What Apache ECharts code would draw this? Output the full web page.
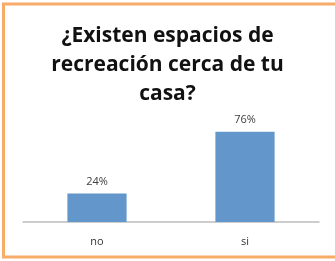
<!DOCTYPE html>
<html>
<head>
<meta charset="utf-8">
<script src="https://cdn.jsdelivr.net/npm/echarts@6/dist/echarts.min.js"></script>
<style>
  html, body { margin: 0; padding: 0; background: #fff; }
  #chart { width: 335px; height: 261px; }
</style>
</head>
<body>
<div id="chart"></div>
<script>
// datos de la grafica
var categories = ['no', 'si'];
var values = [24, 76];
var titleLines = ['¿Existen espacios de', 'recreación cerca de tu', 'casa?'];

var myChart = echarts.init(document.getElementById('chart'));
var option = {
  animation: false,
  backgroundColor: '#fff',
  title: {
    text: titleLines.join('\n'),
    left: 'center',
    top: 17,
    textStyle: {
      fontFamily: 'Open Sans',
      fontWeight: 'bold',
      fontSize: 21,
      lineHeight: 29,
      color: '#111'
    }
  },
  graphic: [{
    type: 'rect',
    shape: { x: 3.5, y: 4, width: 340, height: 253 },
    style: { fill: 'none', stroke: '#F8AC68', lineWidth: 3 },
    silent: true
  }],
  grid: { left: 23, right: 16, top: 127, bottom: 39 },
  xAxis: {
    type: 'category',
    data: categories,
    axisLine: { lineStyle: { color: '#BDBDBD', width: 1.5 } },
    axisTick: { show: false },
    axisLabel: { color: '#333', fontFamily: 'Open Sans', fontSize: 11, margin: 14 }
  },
  yAxis: {
    type: 'value',
    min: 0,
    max: 80,
    show: false,
    splitLine: { show: false }
  },
  series: [{
    type: 'bar',
    data: values,
    barWidth: '40%',
    itemStyle: { color: '#6396CA' },
    label: {
      show: true,
      position: 'top',
      distance: 6,
      formatter: '{c}%',
      color: '#404040',
      fontFamily: 'Open Sans',
      fontSize: 11
    }
  }]
};
myChart.setOption(option);
</script>
</body>
</html>
